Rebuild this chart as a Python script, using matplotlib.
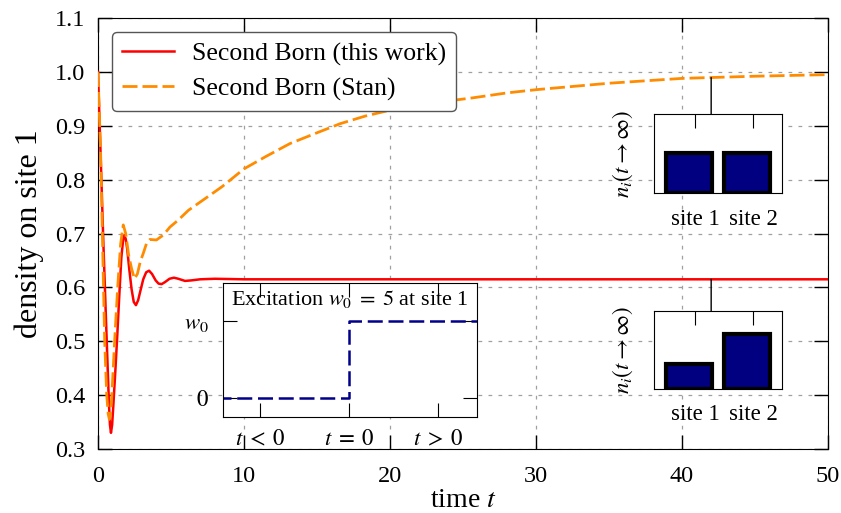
import numpy as np
import matplotlib
matplotlib.use('Agg')
import matplotlib.pyplot as plt
from matplotlib.patches import ConnectionPatch

plt.rcParams['font.family'] = ['Liberation Serif', 'DejaVu Serif']
plt.rcParams['mathtext.fontset'] = 'stix'

# density on site 1
t_sb = [0, 0.1, 0.2, 0.36, 0.6, 0.75, 0.82, 0.89, 0.97, 1.05, 1.2, 1.32, 1.45, 1.6,
        1.72, 1.8, 1.9, 2.0, 2.15, 2.3, 2.45, 2.6, 2.75, 2.9, 3.1, 3.3, 3.5, 3.7,
        3.95, 4.15, 4.36, 4.6, 4.9, 5.2, 5.5, 5.96, 6.4, 7.0, 8.0, 10, 20, 30, 40, 50]
n_sb = [1.0, 0.915, 0.83, 0.69, 0.50, 0.385, 0.345, 0.33, 0.345, 0.38, 0.45, 0.51,
        0.58, 0.655, 0.688, 0.697, 0.69, 0.672, 0.632, 0.597, 0.573, 0.567, 0.576,
        0.593, 0.615, 0.628, 0.631, 0.625, 0.613, 0.607, 0.606, 0.61, 0.616, 0.618,
        0.616, 0.612, 0.613, 0.615, 0.616, 0.615, 0.615, 0.615, 0.615, 0.615]

t_stan = [0, 0.18, 0.46, 0.6, 0.7, 0.78, 0.86, 0.95, 1.14, 1.35, 1.55, 1.73, 1.9,
          2.1, 2.3, 2.5, 2.7, 2.9, 3.1, 3.33, 3.56, 4.0, 4.47, 4.93, 5.5, 6.19, 7.4,
          8.5, 10, 11.5, 13.15, 15, 16.6, 18.3, 20, 22.5, 25.7, 28, 30, 35, 40, 45, 50]
n_stan = [1.0, 0.85, 0.50, 0.40, 0.365, 0.355, 0.365, 0.40, 0.50, 0.60, 0.68, 0.716,
          0.70, 0.66, 0.635, 0.616, 0.625, 0.648, 0.663, 0.682, 0.689, 0.688, 0.697,
          0.712, 0.725, 0.743, 0.766, 0.787, 0.82, 0.843, 0.867, 0.887, 0.904, 0.918,
          0.929, 0.941, 0.952, 0.961, 0.967, 0.979, 0.988, 0.992, 0.995]

# excitation inset
step_t = [-1.5, 0, 0, 1.5]
step_w = [0, 0, 1, 1]
step_ticks = [-1, 0, 1]
step_ticklabels = [r'$t\;<\;0$', r'$t\;=\;0$', r'$t\;>\;0$']

# final densities on the two sites
sites = ['site 1', 'site 2']
n_inf_stan = [1.0, 1.0]
n_inf_sb = [0.615, 1.385]

t_link = 42

fig = plt.figure(figsize=(8.41, 5.13), dpi=100)
ax = fig.add_axes([0.1165, 0.1248, 0.868, 0.840])

grid_style = dict(color='#a0a0a0', linestyle=(0, (3, 5)), linewidth=0.9)

ax.plot(t_sb, n_sb, color='#ff0000', lw=1.8, label='Second Born (this work)', zorder=3)
ax.plot(t_stan, n_stan, color='#ff8c00', lw=2.0, dashes=(5.4, 1.8),
        label='Second Born (Stan)', zorder=3)
ax.set_xlim(0, 50)
ax.set_ylim(0.3, 1.1)
ax.set_xticks([0, 10, 20, 30, 40, 50])
ax.set_yticks(np.arange(0.3, 1.11, 0.1))
ax.set_yticklabels(['%.1f' % v for v in np.arange(0.3, 1.11, 0.1)])
ax.grid(True, **grid_style)
ax.tick_params(direction='in', length=10, width=1, top=True, right=True, labelsize=17.5)
ax.tick_params(axis='x', pad=12)
ax.tick_params(axis='y', pad=9)
ax.set_xlabel('time $t$', fontsize=20, labelpad=1)
ax.set_ylabel('density on site 1', fontsize=23, labelpad=8)
leg = ax.legend(loc='upper left', fontsize=18.5, fancybox=True, framealpha=1,
                edgecolor='#555555', handlelength=2.0, handletextpad=0.7,
                borderaxespad=0.55, labelspacing=0.45)
leg.get_frame().set_linewidth(1.0)

# step inset
ins = fig.add_axes([0.2648, 0.1877, 0.302, 0.260])
ins.plot(step_t, step_w, color='#00008b', lw=1.8, dashes=(6, 2.3))
ins.set_xlim(-1.42, 1.43)
ins.set_ylim(-0.25, 1.5)
ins.set_xticks(step_ticks)
ins.set_xticklabels(step_ticklabels)
ins.set_yticks([0, 1])
ins.set_yticklabels(['$0$', '$w_0$'])
ins.tick_params(direction='in', length=10, top=True, right=True, labelsize=16.5)
ins.tick_params(axis='x', pad=9)
ins.tick_params(axis='y', pad=10)
ins.text(0.5, 0.88, r'Excitation $w_0\;=\;5$ at site 1', transform=ins.transAxes,
         ha='center', va='center', fontsize=16)

# bar insets
pos = np.arange(len(sites))


def bar_inset(rect, values):
    b = fig.add_axes(rect)
    b.bar(pos, values, width=0.78, color='#000080', edgecolor='k', lw=3, zorder=3)
    b.set_xlim(-0.6, 1.6)
    b.set_ylim(0, 1.95)
    b.set_xticks(pos + 0.11)
    b.set_xticklabels(sites)
    b.set_yticks([])
    b.tick_params(direction='in', length=10, top=True, labelsize=16.5, pad=11)
    b.set_ylabel(r'$n_i(t\to\infty)$', fontsize=16.5, labelpad=14)
    return b


b_top = bar_inset([0.778, 0.6232, 0.1515, 0.1546], n_inf_stan)
b_bot = bar_inset([0.778, 0.2417, 0.1515, 0.152], n_inf_sb)


def connect(b, t, n):
    y = np.interp(t_link, t, n)
    xb = b.transAxes.inverted().transform(ax.transData.transform((t_link, y)))[0]
    con = ConnectionPatch((t_link, y), (xb, 1), coordsA='data', coordsB='axes fraction',
                          axesA=ax, axesB=b, color='k', lw=1)
    fig.add_artist(con)


connect(b_top, t_stan, n_stan)
connect(b_bot, t_sb, n_sb)

fig.savefig('out.png', dpi=100)
